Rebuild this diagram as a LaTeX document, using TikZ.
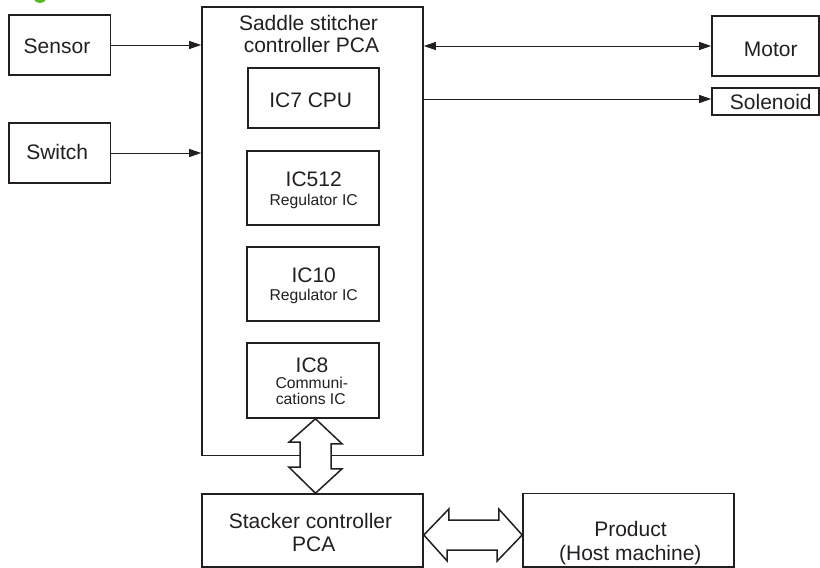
\documentclass[tikz,border=0pt]{standalone}
\usepackage{fontspec}
\setmainfont{Liberation Sans}
\usetikzlibrary{arrows.meta,calc}
\definecolor{ink}{HTML}{231F20}
\definecolor{capgreen}{HTML}{5DB82B}
\begin{document}
\begin{tikzpicture}[x=1pt,y=-1pt,
  box/.style={draw=ink,line width=1.6pt,rectangle,inner sep=0pt},
  big/.style={font=\fontsize{21}{23.5}\selectfont,text=ink,inner sep=0pt,anchor=base},
  small/.style={font=\fontsize{15.7}{14.5}\selectfont,text=ink,inner sep=0pt,anchor=base},
  conn/.style={draw=ink,line width=0.9pt,-{Triangle[length=12pt,width=8pt]}},
  conn2/.style={draw=ink,line width=0.9pt,{Triangle[length=12pt,width=8pt]}-{Triangle[length=12pt,width=8pt]}},
  hollow/.style={draw=ink,line width=1.5pt,fill=white,line join=miter}]
\clip (0,0) rectangle (820,568);
\fill[capgreen] (40,-4) circle (7pt);

% boxes
\node[box,minimum width=101.5pt,minimum height=60pt] (sensor) at (59.75,45) {};
\node[box,minimum width=101.5pt,minimum height=60pt] (switch) at (59.75,153) {};
\node[box,minimum width=221pt,minimum height=448.5pt] (saddle) at (312.5,231.25) {};
\node[box,minimum width=131pt,minimum height=60pt] (ic7) at (313.5,98) {};
\node[box,minimum width=132pt,minimum height=74pt] (ic512) at (313,188) {};
\node[box,minimum width=132pt,minimum height=74pt] (ic10) at (313,284) {};
\node[box,minimum width=132pt,minimum height=75pt] (ic8) at (313,380.5) {};
\node[box,minimum width=221pt,minimum height=73pt] (stacker) at (312.5,530.5) {};
\node[box,minimum width=211pt,minimum height=73.5pt] (product) at (628.5,530.25) {};
\node[box,minimum width=107pt,minimum height=60pt] (motor) at (765.5,46) {};
\node[box,minimum width=107pt,minimum height=27pt] (solenoid) at (765.5,101.5) {};

% texts
\node[big] (tSensor) at (57,53.3) {Sensor};
\node[big] (tSwitch) at (57.2,159.3) {Switch};
\node[big] (tSaddle1) at (308.5,30.7) {Saddle stitcher};
\node[big] (tSaddle2) at (311.5,52.7) {controller PCA};
\node[big] (tIC7) at (310.7,107.3) {IC7 CPU};
\node[big] (tIC512) at (313.7,186.7) {IC512};
\node[small] (tReg1) at (313.7,205) {Regulator IC};
\node[big] (tIC10) at (313.7,282.7) {IC10};
\node[small] (tReg2) at (313.7,300.7) {Regulator IC};
\node[big] (tIC8) at (312,372) {IC8};
\node[small] (tCom1) at (311.8,388.5) {Communi-};
\node[small] (tCom2) at (310.8,404) {cations IC};
\node[big] (tMotor) at (770.8,56.7) {Motor};
\node[big] (tSol) at (770.8,109.3) {Solenoid};
\node[big] (tSt1) at (310.5,528.3) {Stacker controller};
\node[big] (tSt2) at (313.8,551.7) {PCA};
\node[big] (tPr1) at (630.5,536.7) {Product};
\node[big] (tPr2) at (630.3,560) {(Host machine)};

% connectors
\draw[conn] (sensor.east) -- (sensor.east -| saddle.west);
\draw[conn] (switch.east) -- (switch.east -| saddle.west);
\draw[conn2] (motor.west -| saddle.east) -- (motor.west);
\coordinate (soly) at (0,99);
\draw[conn] (saddle.east |- soly) -- (solenoid.west |- soly);

% hollow double arrows
\path (ic8.south) ++(2.5,0) coordinate (vtop);
\path (stacker.north) ++(3,0) coordinate (vbot);
\draw[hollow] (vtop) -- ++(26.5,25) -- ++(-11,0) -- ++(0,25) -- ++(11,0) -- (vbot)
  -- ++(-26.5,-26) -- ++(11,0) -- ++(0,-25) -- ++(-11,0) -- cycle;
\path (stacker.east) ++(0,4.5) coordinate (hl);
\coordinate (hr) at (product.west |- hl);
\draw[hollow] (hl) -- ++(25,-26) -- ++(0,11) -- ++(50,0) -- ++(0,-11) -- (hr)
  -- ++(-25,26) -- ++(0,-11) -- ++(-50,0) -- ++(0,11) -- cycle;
\end{tikzpicture}
\end{document}
